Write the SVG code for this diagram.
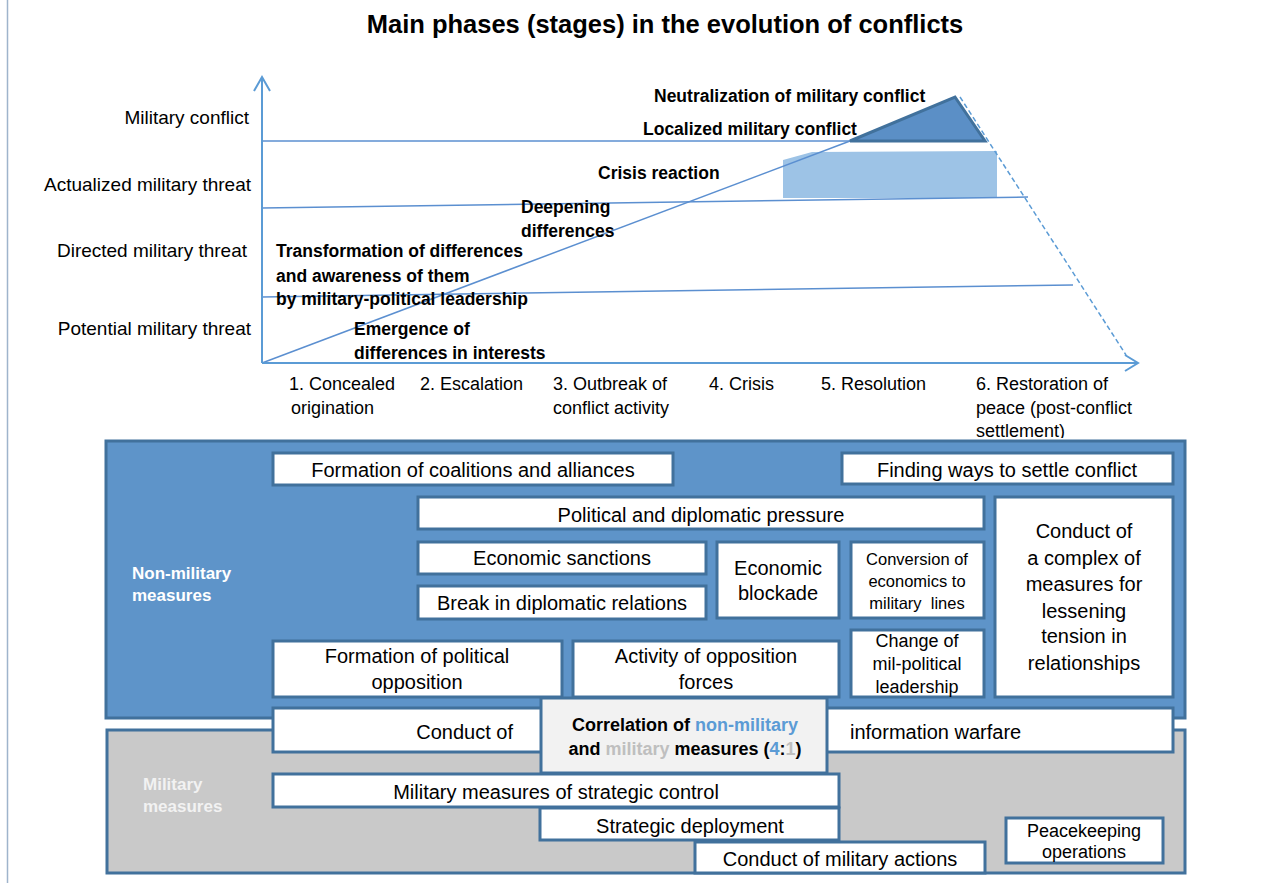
<svg xmlns="http://www.w3.org/2000/svg" width="1285" height="883" viewBox="0 0 1285 883">
<style>
text{font-family:"Liberation Sans",Arial,sans-serif;fill:#000}
.t{font-size:25.5px;font-weight:bold}
.yl{font-size:19px;text-anchor:end}
.xl{font-size:18px}
.bl{font-size:17.5px;font-weight:bold}
.bx{fill:#fff;stroke:#41719c;stroke-width:3}
.bt{font-size:20px;text-anchor:middle}
.ax{stroke:#5b9bd5;stroke-width:2;fill:none}
.hl{stroke:#5b8fd0;stroke-width:1.5;fill:none}
.grp{font-size:17px;font-weight:bold}
</style>
<defs>
<clipPath id="clipSet"><rect x="900" y="420" width="300" height="18"/></clipPath>
</defs>
<line x1="7.5" y1="0" x2="7.5" y2="883" stroke="#9fb4cc" stroke-width="1.5"/>
<text class="t" x="665" y="33" text-anchor="middle">Main phases (stages) in the evolution of conflicts</text>

<g id="chart">
<polygon points="783,160 812,152 997,151 997,198 783,198" fill="#9dc3e6"/>
<line class="hl" x1="262" y1="141" x2="850" y2="141"/>
<line class="hl" x1="262" y1="208" x2="1028" y2="197"/>
<line class="hl" x1="262" y1="297" x2="1073" y2="285"/>
<line class="hl" x1="262" y1="363" x2="850" y2="141"/>
<polygon points="850,141 955,97 985,141" fill="#5b8fc6" stroke="#41719c" stroke-width="3" stroke-linejoin="miter"/>
<line x1="960" y1="97" x2="1126" y2="355" stroke="#5b9bd5" stroke-width="1.5" stroke-dasharray="5,3"/>
<line class="ax" x1="262" y1="363" x2="262" y2="77"/>
<polyline class="ax" points="254,91 262,77 270,91" stroke-width="2.5"/>
<line class="ax" x1="262" y1="363" x2="1137" y2="363"/>
<polyline class="ax" points="1125,355 1138,363 1125,371" stroke-width="2.5"/>
</g>

<g id="ylabels">
<text class="yl" x="249" y="124">Military conflict</text>
<text class="yl" x="251" y="191">Actualized military threat</text>
<text class="yl" x="247" y="257">Directed military threat</text>
<text class="yl" x="251" y="335">Potential military threat</text>
</g>

<g id="xlabels">
<text class="xl" x="289" y="390">1. Concealed</text>
<text class="xl" x="291" y="414">origination</text>
<text class="xl" x="420" y="390">2. Escalation</text>
<text class="xl" x="553" y="390">3. Outbreak of</text>
<text class="xl" x="553" y="414">conflict activity</text>
<text class="xl" x="709" y="390">4. Crisis</text>
<text class="xl" x="821" y="390">5. Resolution</text>
<text class="xl" x="976" y="390">6. Restoration of</text>
<text class="xl" x="976" y="414">peace (post-conflict</text>
<text class="xl" x="976" y="437" clip-path="url(#clipSet)">settlement)</text>
</g>

<g id="stagelabels">
<text class="bl" x="654" y="102">Neutralization of military conflict</text>
<text class="bl" x="643" y="135">Localized military conflict</text>
<text class="bl" x="598" y="179">Crisis reaction</text>
<text class="bl" x="521" y="213">Deepening</text>
<text class="bl" x="521" y="237">differences</text>
<text class="bl" x="276" y="257">Transformation of differences</text>
<text class="bl" x="276" y="282">and awareness of them</text>
<text class="bl" x="276" y="305">by military-political leadership</text>
<text class="bl" x="354" y="335">Emergence of</text>
<text class="bl" x="354" y="359">differences in interests</text>
</g>

<g id="nonmilitary">
<rect x="106" y="441" width="1079" height="277" fill="#5e94c9" stroke="#41719c" stroke-width="3"/>
<text class="grp" x="132" y="579" fill="#fff" style="fill:#fff">Non-military</text>
<text class="grp" x="132" y="601" style="fill:#fff">measures</text>
</g>
<g id="military">
<rect x="107" y="730" width="1078" height="143" fill="#c9c9c9" stroke="#41719c" stroke-width="3"/>
<text class="grp" x="143" y="790" style="fill:#f2f2f2">Military</text>
<text class="grp" x="143" y="812" style="fill:#f2f2f2">measures</text>
</g>

<g id="coalitions"><rect class="bx" x="273" y="453" width="400" height="32"/><text class="bt" x="473" y="477">Formation of coalitions and alliances</text></g>
<g id="settle"><rect class="bx" x="842" y="453" width="331" height="31"/><text class="bt" x="1007" y="477">Finding ways to settle conflict</text></g>
<g id="pressure"><rect class="bx" x="418" y="497" width="566" height="32"/><text class="bt" x="701" y="522">Political and diplomatic pressure</text></g>
<g id="tension"><rect class="bx" x="995" y="497" width="178" height="200"/>
<text class="bt" x="1084" y="538">Conduct of</text>
<text class="bt" x="1084" y="565">a complex of</text>
<text class="bt" x="1084" y="591">measures for</text>
<text class="bt" x="1084" y="618">lessening</text>
<text class="bt" x="1084" y="643">tension in</text>
<text class="bt" x="1084" y="670">relationships</text></g>
<g id="sanctions"><rect class="bx" x="418" y="542" width="288" height="32"/><text class="bt" x="562" y="565">Economic sanctions</text></g>
<g id="break"><rect class="bx" x="418" y="586" width="288" height="33"/><text class="bt" x="562" y="610">Break in diplomatic relations</text></g>
<g id="blockade"><rect class="bx" x="717" y="542" width="122" height="76"/><text class="bt" x="778" y="575">Economic</text><text class="bt" x="778" y="600">blockade</text></g>
<g id="conversion"><rect class="bx" x="851" y="542" width="133" height="76"/>
<text class="bt" x="917" y="565" style="font-size:16.5px">Conversion of</text>
<text class="bt" x="917" y="587" style="font-size:16.5px">economics to</text>
<text class="bt" x="917" y="609" style="font-size:16.5px" xml:space="preserve">military  lines</text></g>
<g id="leadership"><rect class="bx" x="851" y="630" width="133" height="67"/>
<text class="bt" x="917" y="647" style="font-size:18px">Change of</text>
<text class="bt" x="917" y="670" style="font-size:18px">mil-political</text>
<text class="bt" x="917" y="693" style="font-size:18px">leadership</text></g>
<g id="opposition"><rect class="bx" x="273" y="641" width="289" height="56"/><text class="bt" x="417" y="663">Formation of political</text><text class="bt" x="417" y="689">opposition</text></g>
<g id="forces"><rect class="bx" x="573" y="641" width="266" height="56"/><text class="bt" x="706" y="663">Activity of opposition</text><text class="bt" x="706" y="689">forces</text></g>
<g id="infowar"><rect class="bx" x="273" y="708" width="900" height="44"/><text class="bt" x="513" y="739" style="text-anchor:end">Conduct of</text><text class="bt" x="850" y="739" style="text-anchor:start">information warfare</text></g>
<g id="correlation"><rect x="541" y="698" width="286" height="75" fill="#f2f2f2" stroke="#41719c" stroke-width="3"/>
<text x="685" y="731" style="font-size:18px;font-weight:bold;text-anchor:middle">Correlation of <tspan style="fill:#5b9bd5">non-military</tspan></text>
<text x="685" y="755" style="font-size:18px;font-weight:bold;text-anchor:middle">and <tspan style="fill:#bfbfbf">military</tspan> measures (<tspan style="fill:#5b9bd5">4</tspan>:<tspan style="fill:#bfbfbf">1</tspan>)</text></g>
<g id="strategic"><rect class="bx" x="273" y="774" width="566" height="33"/><text class="bt" x="556" y="799">Military measures of strategic control</text></g>
<g id="deployment"><rect class="bx" x="540" y="808" width="299" height="32"/><text class="bt" x="690" y="833">Strategic deployment</text></g>
<g id="actions"><rect class="bx" x="695" y="842" width="290" height="31"/><text class="bt" x="840" y="866">Conduct of military actions</text></g>
<g id="peacekeeping"><rect class="bx" x="1006" y="818" width="157" height="45"/><text class="bt" x="1084" y="837" style="font-size:18px">Peacekeeping</text><text class="bt" x="1084" y="858" style="font-size:18px">operations</text></g>
</svg>
